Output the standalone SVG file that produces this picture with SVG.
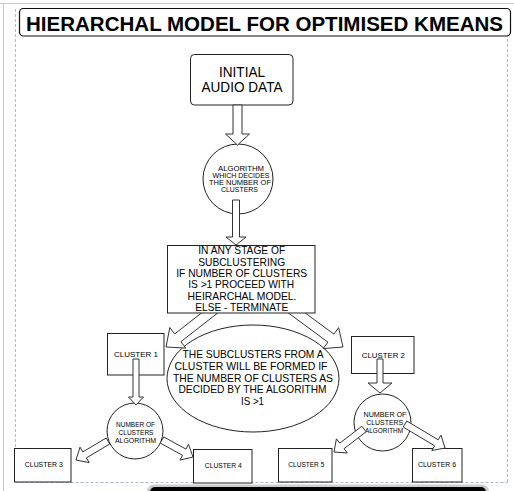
<svg xmlns="http://www.w3.org/2000/svg" width="514" height="491" viewBox="0 0 514 491">
<style>
.t{font-family:"Liberation Sans",Arial,sans-serif;fill:#000;text-anchor:middle}
.n{fill:#fff;stroke:#222;stroke-width:1}
.a{fill:#fff;stroke:#333;stroke-width:1;stroke-linejoin:miter}
.b{font-size:10.7px}
.s{font-size:6.6px}
.c{font-size:7px}
</style>
<rect width="514" height="491" fill="#fff"/>
<g id="page">
<line x1="0" y1="3.5" x2="514" y2="3.5" stroke="#c8c8c8" stroke-width="1"/>
<line x1="3.5" y1="3.5" x2="3.5" y2="491" stroke="#c8c8c8" stroke-width="1"/>
<g stroke="#a9b8d2" stroke-width="1" stroke-dasharray="3,2" fill="none">
<line x1="15.5" y1="9" x2="15.5" y2="483"/>
<line x1="507.5" y1="9" x2="507.5" y2="483"/>
<line x1="15.5" y1="482.5" x2="507.5" y2="482.5"/>
</g>
<rect x="147" y="484.5" width="342" height="14" rx="7" fill="#999" opacity="0.5"/>
<rect x="150" y="487" width="336" height="10" rx="5" fill="#000"/>
</g>
<g id="title">
<rect x="19.5" y="8.5" width="491" height="27.5" rx="4" fill="#fff" stroke="#111" stroke-width="1.2"/>
<text class="t" x="264.5" y="31" font-size="21" font-weight="bold" textLength="477" lengthAdjust="spacingAndGlyphs">HIERARCHAL MODEL FOR OPTIMISED KMEANS</text>
</g>
<g id="initial">
<rect class="n" x="190.5" y="54.5" width="102.5" height="50.5" rx="4"/>
<text class="t" x="242" y="77.3" font-size="14.5" textLength="46" lengthAdjust="spacingAndGlyphs">INITIAL</text>
<text class="t" x="242" y="92.3" font-size="14.5" textLength="81" lengthAdjust="spacingAndGlyphs">AUDIO DATA</text>
</g>
<g id="algorithm">
<circle class="n" cx="238" cy="179" r="35"/>
<text class="t s" x="241" y="170.7" textLength="46" lengthAdjust="spacingAndGlyphs">ALGORITHM</text>
<text class="t s" x="241" y="177.9" textLength="57" lengthAdjust="spacingAndGlyphs">WHICH DECIDES</text>
<text class="t s" x="240" y="185.1" textLength="62" lengthAdjust="spacingAndGlyphs">THE NUMBER OF</text>
<text class="t s" x="239.5" y="192.3" textLength="37" lengthAdjust="spacingAndGlyphs">CLUSTERS</text>
</g>
<g id="subclusters">
<ellipse class="n" cx="253" cy="378.5" rx="86" ry="53.5"/>
<text class="t b" x="253" y="358.3" textLength="141" lengthAdjust="spacingAndGlyphs">THE SUBCLUSTERS FROM A</text>
<text class="t b" x="251" y="370" textLength="153" lengthAdjust="spacingAndGlyphs">CLUSTER WILL BE FORMED IF</text>
<text class="t b" x="253" y="381.7" textLength="160" lengthAdjust="spacingAndGlyphs">THE NUMBER OF CLUSTERS AS</text>
<text class="t b" x="252.5" y="393.3" textLength="148" lengthAdjust="spacingAndGlyphs">DECIDED BY THE ALGORITHM</text>
<text class="t b" x="252.5" y="405" textLength="23" lengthAdjust="spacingAndGlyphs">IS &gt;1</text>
</g>
<g id="cluster1">
<rect class="n" x="107.5" y="333.5" width="56.5" height="41.5"/>
<text class="t c" x="136" y="357.3" textLength="44" lengthAdjust="spacingAndGlyphs">CLUSTER 1</text>
</g>
<g id="cluster2">
<rect class="n" x="351.5" y="336.5" width="62.5" height="37"/>
<text class="t c" x="383.3" y="357.7" textLength="43" lengthAdjust="spacingAndGlyphs">CLUSTER 2</text>
</g>
<g id="numalg1">
<circle class="n" cx="135" cy="431" r="28"/>
<text class="t s" x="135.5" y="427.3" textLength="39" lengthAdjust="spacingAndGlyphs">NUMBER OF</text>
<text class="t s" x="136" y="435.2" textLength="35" lengthAdjust="spacingAndGlyphs">CLUSTERS</text>
<text class="t s" x="135.5" y="443.3" textLength="41" lengthAdjust="spacingAndGlyphs">ALGORITHM</text>
</g>
<g id="numalg2">
<circle class="n" cx="382.5" cy="422.5" r="28.5"/>
<text class="t s" x="385" y="416.7" textLength="43" lengthAdjust="spacingAndGlyphs">NUMBER OF</text>
<text class="t s" x="384.7" y="425" textLength="37" lengthAdjust="spacingAndGlyphs">CLUSTERS</text>
<text class="t s" x="384" y="433.3" textLength="38" lengthAdjust="spacingAndGlyphs">ALGORITHM</text>
</g>
<g id="cluster3">
<rect class="n" x="14.5" y="448.5" width="56.5" height="33.5"/>
<text class="t c" x="43.8" y="467.3" textLength="38" lengthAdjust="spacingAndGlyphs">CLUSTER 3</text>
</g>
<g id="cluster4">
<rect class="n" x="193.5" y="449.5" width="58.5" height="33.5"/>
<text class="t c" x="223.3" y="468.3" textLength="37" lengthAdjust="spacingAndGlyphs">CLUSTER 4</text>
</g>
<g id="cluster5">
<rect class="n" x="278.5" y="448.5" width="53.5" height="33.5"/>
<text class="t c" x="306.3" y="467.3" textLength="36" lengthAdjust="spacingAndGlyphs">CLUSTER 5</text>
</g>
<g id="cluster6">
<rect class="n" x="412.5" y="448.5" width="49.5" height="33.5"/>
<text class="t c" x="437" y="467.3" textLength="38" lengthAdjust="spacingAndGlyphs">CLUSTER 6</text>
</g>
<g id="connectors">
<polygon class="a" points="233,105 233,134 225.5,134 237.5,145 249.5,134 242,134 242,105"/>
<polygon class="a" points="232.5,200 232.5,237 226,237 236,245 246,237 239.5,237 239.5,200"/>
<polygon class="a" points="212.9,304.1 174.7,333.9 169.8,327.5 166,347 185.8,348.1 180.9,341.7 219.1,311.9"/>
<polygon class="a" points="287,312 327.9,342.1 323.2,348.6 343,347 338.6,327.6 333.9,334.1 293,304"/>
<polygon class="a" points="133,359 133,397 128.5,397 136,405 143.5,397 139,397 139,359"/>
<polygon class="a" points="377,359 377,383 368,383 380,393 392,383 383,383 383,359"/>
<polygon class="a" points="106.2,438 82.8,451.9 80,447.2 76,460 89.2,462.6 86.4,457.9 109.8,444"/>
<polygon class="a" points="160.3,443.1 182.5,455.3 179.9,460.1 193,457 188.5,444.3 185.9,449.1 163.7,436.9"/>
<polygon class="a" points="361.9,426.2 339.8,443.1 336.4,438.8 334,452 347.4,453 344,448.7 366.1,431.8"/>
<polygon class="a" points="403.2,427 434.6,445.8 431.8,450.5 445,448 441,435.1 438.2,439.8 406.8,421"/>
</g>
<g id="decision">
<rect class="n" x="167.5" y="245.5" width="147.5" height="67.5"/>
<text class="t b" x="241.7" y="254.3" textLength="87" lengthAdjust="spacingAndGlyphs">IN ANY STAGE OF</text>
<text class="t b" x="241.7" y="265.5" textLength="87" lengthAdjust="spacingAndGlyphs">SUBCLUSTERING</text>
<text class="t b" x="241.7" y="276.8" textLength="131" lengthAdjust="spacingAndGlyphs">IF NUMBER OF CLUSTERS</text>
<text class="t b" x="241.2" y="288.3" textLength="106" lengthAdjust="spacingAndGlyphs">IS &gt;1 PROCEED WITH</text>
<text class="t b" x="242" y="299.8" textLength="109" lengthAdjust="spacingAndGlyphs">HEIRARCHAL MODEL.</text>
<text class="t b" x="241.7" y="311" textLength="93" lengthAdjust="spacingAndGlyphs">ELSE - TERMINATE</text>
</g>
</svg>
